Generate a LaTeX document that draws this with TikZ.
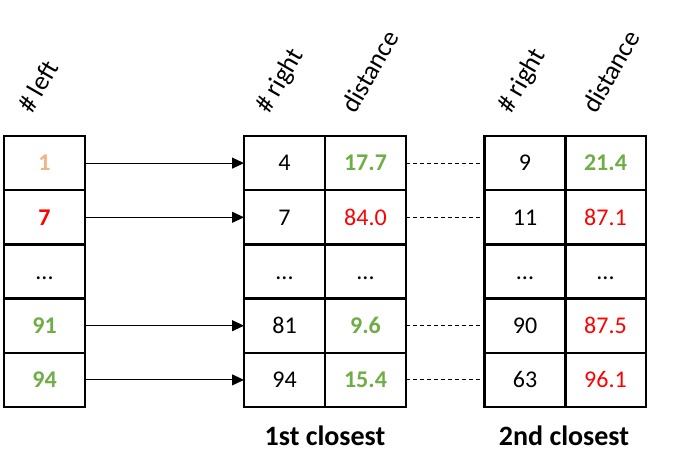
\documentclass[tikz,border=0pt]{standalone}
\usepackage{fontspec}
\setmainfont{Carlito}
\usetikzlibrary{arrows.meta}
\definecolor{okgreen}{HTML}{70AD47}
\definecolor{badred}{HTML}{FF0000}
\definecolor{softorange}{HTML}{F4B183}
\tikzset{
  cell/.style={draw=black, line width=2.5pt, minimum width=81pt, minimum height=54.2pt,
    inner sep=0pt, outer sep=0pt, text height=15.5pt, text depth=0pt,
    font=\fontsize{24}{28}\selectfont},
  good/.style={text=okgreen, font=\fontsize{24}{28}\selectfont\bfseries},
  bad/.style={text=badred},
  badbold/.style={text=badred, font=\fontsize{24}{28}\selectfont\bfseries},
  first/.style={text=softorange, font=\fontsize{24}{28}\selectfont\bfseries},
  header/.style={rotate=60, anchor=base west, inner sep=0pt, font=\fontsize{26.5}{30}\selectfont},
  caption/.style={anchor=base, inner sep=0pt, font=\fontsize{28}{32}\selectfont\bfseries},
  link/.style={line width=1pt, -{Triangle[length=12pt,width=11pt]}},
  pair/.style={line width=1pt, dash pattern=on 4pt off 3pt}
}
\begin{document}
\begin{tikzpicture}[x=1pt, y=-1pt]
\useasboundingbox (0,0) rectangle (687,472);
% headers
\node[header] (hl) at (32,115) {\# left};
\node[header] (hm1) at (269,115) {\# right};
\node[header] (hm2) at (355,115) {distance};
\node[header] (hr1) at (511,115) {\# right};
\node[header] (hr2) at (596,115) {distance};
% left column
\node[cell, first] (l1) at (44.5,163.1) {1};
\node[cell, badbold] (l2) at (44.5,217.3) {7};
\node[cell] (l3) at (44.5,271.5) {...};
\node[cell, good] (l4) at (44.5,325.7) {91};
\node[cell, good] (l5) at (44.5,379.9) {94};
% 1st closest table
\node[cell] (ma1) at (284.5,163.1) {4};
\node[cell] (ma2) at (284.5,217.3) {7};
\node[cell] (ma3) at (284.5,271.5) {...};
\node[cell] (ma4) at (284.5,325.7) {81};
\node[cell] (ma5) at (284.5,379.9) {94};
\node[cell, good] (mb1) at (365.5,163.1) {17.7};
\node[cell, bad] (mb2) at (365.5,217.3) {84.0};
\node[cell] (mb3) at (365.5,271.5) {...};
\node[cell, good] (mb4) at (365.5,325.7) {9.6};
\node[cell, good] (mb5) at (365.5,379.9) {15.4};
% 2nd closest table
\node[cell] (ra1) at (525,163.1) {9};
\node[cell] (ra2) at (525,217.3) {11};
\node[cell] (ra3) at (525,271.5) {...};
\node[cell] (ra4) at (525,325.7) {90};
\node[cell] (ra5) at (525,379.9) {63};
\node[cell, good] (rb1) at (605.5,163.1) {21.4};
\node[cell, bad] (rb2) at (605.5,217.3) {87.1};
\node[cell] (rb3) at (605.5,271.5) {...};
\node[cell, bad] (rb4) at (605.5,325.7) {87.5};
\node[cell, bad] (rb5) at (605.5,379.9) {96.1};
% captions
\node[caption] (c1) at (325,445) {1st closest};
\node[caption] (c2) at (564,445) {2nd closest};
% arrows
\draw[link] (l1.east) -- (ma1.west);
\draw[link] (l2.east) -- (ma2.west);
\draw[link] (l4.east) -- (ma4.west);
\draw[link] (l5.east) -- (ma5.west);
% dashed links
\draw[pair] (mb1.east) -- (ra1.west);
\draw[pair] (mb2.east) -- (ra2.west);
\draw[pair] (mb4.east) -- (ra4.west);
\draw[pair] (mb5.east) -- (ra5.west);
\end{tikzpicture}
\end{document}
